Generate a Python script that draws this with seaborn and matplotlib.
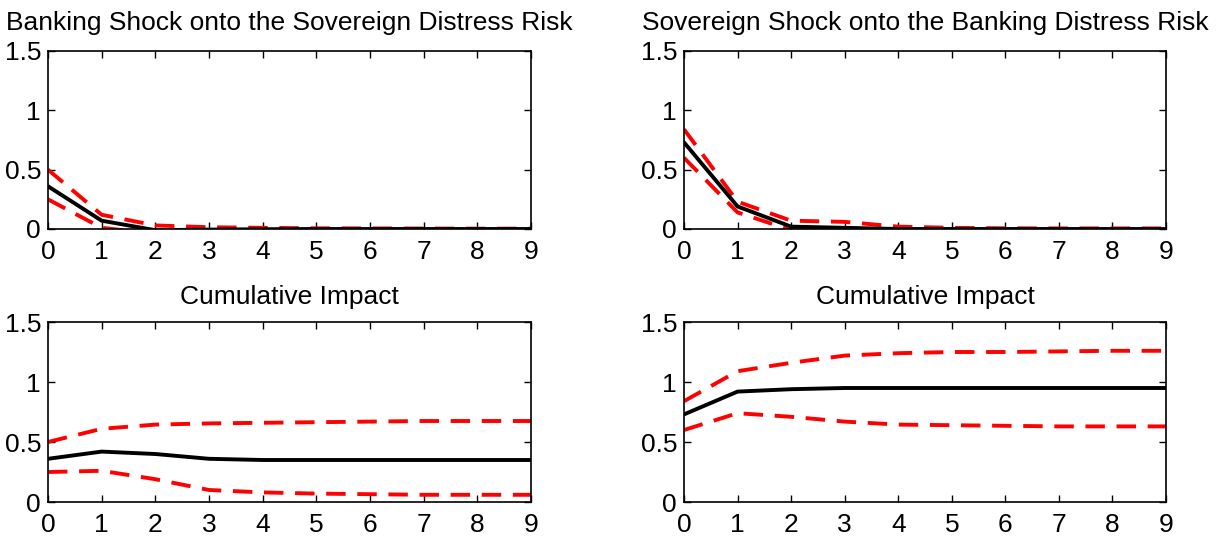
import numpy as np
import pandas as pd
import matplotlib
matplotlib.use("Agg")
import matplotlib.pyplot as plt
import seaborn as sns

horizon = list(range(10))

# Top-left: Banking shock onto sovereign distress risk
tl_med = [0.36, 0.07, -0.01, -0.005, -0.002, 0.0, 0.0, 0.0, 0.0, 0.0]
tl_up = [0.50, 0.12, 0.03, 0.015, 0.01, 0.006, 0.005, 0.004, 0.003, 0.003]
tl_lo = [0.25, 0.01, -0.04, -0.03, -0.02, -0.01, -0.01, -0.01, -0.01, -0.01]

# Top-right: Sovereign shock onto banking distress risk
tr_med = [0.73, 0.19, 0.02, 0.01, 0.0, 0.0, 0.0, 0.0, 0.0, 0.0]
tr_up = [0.84, 0.23, 0.07, 0.06, 0.02, 0.01, 0.006, 0.005, 0.005, 0.005]
tr_lo = [0.60, 0.14, -0.01, -0.02, -0.01, -0.01, -0.01, -0.01, -0.01, -0.01]

# Bottom-left: cumulative impact (banking -> sovereign)
bl_med = [0.36, 0.42, 0.40, 0.36, 0.35, 0.35, 0.35, 0.35, 0.35, 0.35]
bl_up = [0.50, 0.61, 0.645, 0.655, 0.66, 0.665, 0.67, 0.675, 0.675, 0.675]
bl_lo = [0.25, 0.26, 0.19, 0.10, 0.08, 0.07, 0.065, 0.06, 0.06, 0.06]

# Bottom-right: cumulative impact (sovereign -> banking)
br_med = [0.73, 0.92, 0.94, 0.95, 0.95, 0.95, 0.95, 0.95, 0.95, 0.95]
br_up = [0.84, 1.09, 1.16, 1.22, 1.24, 1.25, 1.25, 1.255, 1.26, 1.26]
br_lo = [0.60, 0.74, 0.71, 0.67, 0.645, 0.64, 0.635, 0.63, 0.63, 0.63]

titles = ["Banking Shock onto the Sovereign Distress Risk",
          "Sovereign Shock onto the Banking Distress Risk",
          "Cumulative Impact", "Cumulative Impact"]
ytick_vals = [0, 0.5, 1, 1.5]
ytick_labels = ["0", "0.5", "1", "1.5"]

sns.set_style("ticks")
plt.rcParams['font.family'] = ['Liberation Sans', 'DejaVu Sans']
plt.rcParams['text.color'] = 'black'
plt.rcParams['axes.labelcolor'] = 'black'
plt.rcParams['xtick.color'] = 'black'
plt.rcParams['ytick.color'] = 'black'

fig = plt.figure(figsize=(12.25, 5.39), dpi=100)
W, H = 1225, 539
def rect(x0, x1, ytop, ybot):
    return [x0 / W, 1 - ybot / H, (x1 - x0) / W, (ybot - ytop) / H]

axes = [fig.add_axes(rect(48, 531, 51, 229)),
        fig.add_axes(rect(684, 1166, 51, 229)),
        fig.add_axes(rect(48, 531, 322, 502)),
        fig.add_axes(rect(684, 1166, 322, 502))]
series = [(tl_med, tl_up, tl_lo), (tr_med, tr_up, tr_lo),
          (bl_med, bl_up, bl_lo), (br_med, br_up, br_lo)]
pads = [15, 15, 13, 13]

for ax, (med, up, lo), title, pad in zip(axes, series, titles, pads):
    df = pd.DataFrame({"h": horizon, "med": med, "up": up, "lo": lo})
    sns.lineplot(data=df, x="h", y="up", ax=ax, color="#ff0000", lw=2.8)
    ax.lines[-1].set_dashes((5, 3))
    sns.lineplot(data=df, x="h", y="lo", ax=ax, color="#ff0000", lw=2.8)
    ax.lines[-1].set_dashes((5, 3))
    sns.lineplot(data=df, x="h", y="med", ax=ax, color="black", lw=2.8)
    ax.set_xlim(0, 9)
    ax.set_ylim(0, 1.5)
    ax.set_xticks(horizon)
    ax.set_xticklabels([str(h) for h in horizon])
    ax.set_yticks(ytick_vals)
    ax.set_yticklabels(ytick_labels)
    ax.set_xlabel("")
    ax.set_ylabel("")
    ax.tick_params(direction="in", top=True, right=True, labelsize=19,
                   length=5, width=1, colors="black")
    ax.tick_params(axis="x", pad=8)
    ax.tick_params(axis="y", pad=5)
    for s in ax.spines.values():
        s.set_visible(True)
        s.set_linewidth(1.2)
        s.set_color("black")
    ax.set_title(title, fontsize=19, pad=pad, color="black")

fig.savefig("out.png", dpi=100)
